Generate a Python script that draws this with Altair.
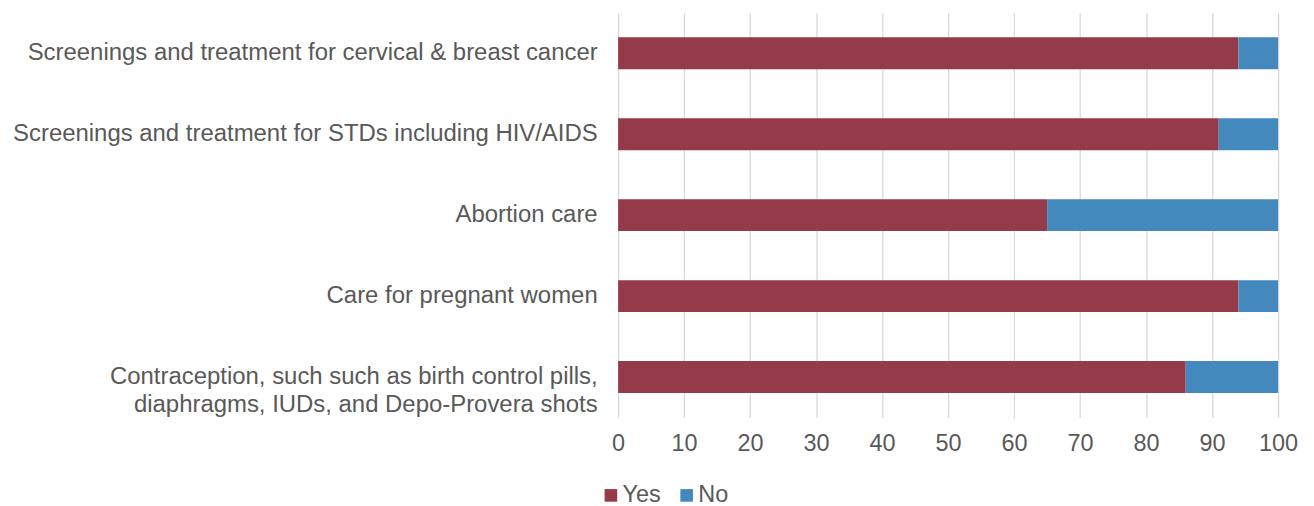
import altair as alt
import pandas as pd

categories = [
    "Screenings and treatment for cervical & breast cancer",
    "Screenings and treatment for STDs including HIV/AIDS",
    "Abortion care",
    "Care for pregnant women",
    "Contraception, such such as birth control pills,\ndiaphragms, IUDs, and Depo-Provera shots",
]
yes_values = [94, 91, 65, 94, 86]
no_values = [6, 9, 35, 6, 14]
series = ["Yes", "No"]
colors = ["#953A48", "#4389BE"]

rows = []
for c, y, n in zip(categories, yes_values, no_values):
    rows.append({"category": c, "series": "Yes", "value": y, "ord": 0})
    rows.append({"category": c, "series": "No", "value": n, "ord": 1})
df = pd.DataFrame(rows)

font = "Liberation Sans"
gray = "#595959"

chart = alt.Chart(df).mark_bar(size=32).encode(
    y=alt.Y("category:N", sort=categories, title=None,
            axis=alt.Axis(labelExpr="split(datum.label, '\\n')", labelFontSize=24,
                          labelColor=gray, labelFont=font, ticks=False, domain=False,
                          labelPadding=21, labelLimit=700, labelLineHeight=28)),
    x=alt.X("value:Q", stack="zero", title=None,
            scale=alt.Scale(domain=[0, 100], nice=False),
            axis=alt.Axis(values=list(range(0, 101, 10)), labelFontSize=23.5,
                          labelColor=gray, labelFont=font, ticks=False, domain=False,
                          labelFlush=False, labelBound=False,
                          gridColor="#D9D9D9", gridWidth=1.3, labelPadding=14)),
    color=alt.Color("series:N", sort=series,
                    scale=alt.Scale(domain=series, range=colors),
                    legend=alt.Legend(title=None, orient="none", direction="horizontal",
                                      legendX=-19, legendY=472, symbolType="square",
                                      symbolSize=160, symbolStrokeWidth=0,
                                      labelFontSize=23.5, labelColor=gray, labelFont=font,
                                      columnPadding=14, labelOffset=0)),
    order=alt.Order("ord:Q"),
).properties(
    width=662, height=406,
    autosize=alt.AutoSizeParams(type="none"),
    padding={"left": 612, "top": 4, "right": 28, "bottom": 92},
).configure_view(stroke=None).configure_axisY(grid=False)

chart.save("out.html", embed_options={"renderer": "svg", "actions": False})
